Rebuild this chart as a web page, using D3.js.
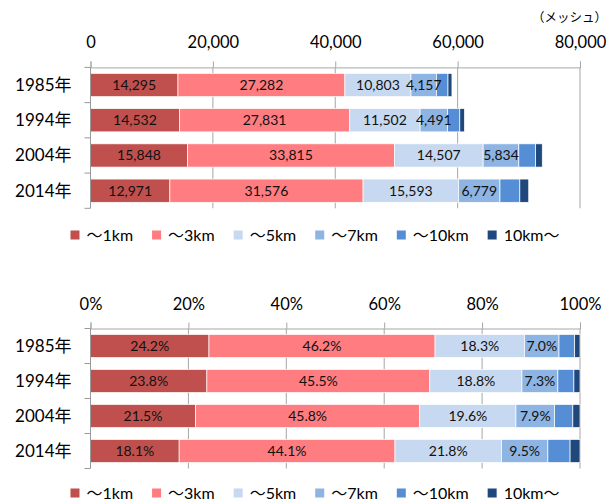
<!DOCTYPE html>
<html>
<head>
<meta charset="utf-8">
<script src="https://cdn.jsdelivr.net/npm/d3@7"></script>
<style>
  html, body { margin: 0; padding: 0; background: #fff; }
  svg { display: block; font-family: Lato, "Noto Sans CJK JP", sans-serif; }
</style>
</head>
<body>
<svg id="chart" width="615" height="502"></svg>
<script>
// ---- data ----
const categories = ["1985年", "1994年", "2004年", "2014年"];
const seriesNames = ["～1km", "～3km", "～5km", "～7km", "～10km", "10km～"];
const km1 = [14295, 14532, 15848, 12971];
const km3 = [27282, 27831, 33815, 31576];
const km5 = [10803, 11502, 14507, 15593];
const km7 = [4157, 4491, 5834, 6779];
const km10 = [1890, 2000, 2750, 3250];
const km10plus = [643, 760, 1080, 1450];
const countTicks = [0, 20000, 40000, 60000, 80000];
const pctTicks = [0, 0.2, 0.4, 0.6, 0.8, 1];
const unitLabel = "（メッシュ）";
const seriesColors = ["#C0504D", "#FF7C80", "#C6D9F1", "#8EB4E3", "#558ED5", "#1F497D"];
const labeledSeries = [true, true, true, true, false, false];

const seriesValues = [km1, km3, km5, km7, km10, km10plus];
const rows = categories.map((c, i) => {
  const r = { cat: c };
  seriesNames.forEach((s, j) => r[s] = seriesValues[j][i]);
  return r;
});

const svg = d3.select("#chart");
const gridColor = "#A6A6A6";

function drawChart(opts) {
  const { x, y, stacked, ticks, tickFmt, labelFmt } = opts;
  const g = svg.append("g");
  const [y0, y1] = y.range();

  // gridlines
  g.selectAll("line.grid").data(ticks.filter(t => t !== 0)).join("line")
    .attr("x1", d => x(d)).attr("x2", d => x(d))
    .attr("y1", y0).attr("y2", y1)
    .attr("stroke", gridColor).attr("stroke-width", 1);

  // top axis
  const ax = g.append("g").attr("transform", `translate(0,${y0})`)
    .call(d3.axisTop(x).tickValues(ticks).tickFormat(tickFmt).tickSize(6).tickPadding(13));
  ax.select(".domain").attr("stroke", gridColor);
  ax.selectAll(".tick line").attr("stroke", gridColor);
  ax.selectAll(".tick text").attr("font-size", 16.5).attr("fill", "#000")
    .attr("font-family", 'Lato, "Noto Sans CJK JP", sans-serif');

  // bars
  const layers = g.selectAll("g.layer").data(stacked).join("g")
    .attr("fill", (d, i) => seriesColors[i]);
  layers.selectAll("rect").data(d => d).join("rect")
    .attr("x", d => x(d[0]))
    .attr("width", d => x(d[1]) - x(d[0]))
    .attr("y", d => y(d.data.cat))
    .attr("height", y.bandwidth())
    .attr("stroke", "#fff").attr("stroke-width", 0.7);

  // labels
  stacked.forEach((layer, i) => {
    if (!labeledSeries[i]) return;
    g.append("g").selectAll("text").data(layer).join("text")
      .attr("x", d => (x(d[0]) + x(d[1])) / 2)
      .attr("y", d => y(d.data.cat) + y.bandwidth() / 2)
      .attr("dy", "0.35em")
      .attr("text-anchor", "middle")
      .attr("font-size", 14)
      .attr("fill", "#111")
      .text(d => labelFmt(d, i));
  });

  // left axis
  const xl = x.range()[0];
  g.append("line").attr("x1", xl).attr("x2", xl).attr("y1", y0).attr("y2", y1)
    .attr("stroke", "#999").attr("stroke-width", 1);
  const bounds = d3.range(categories.length + 1).map(k => y0 + k * y.step());
  g.selectAll("line.lt").data(bounds).join("line")
    .attr("x1", xl - 6).attr("x2", xl).attr("y1", d => d).attr("y2", d => d)
    .attr("stroke", "#999");
  g.selectAll("text.cat").data(categories).join("text")
    .attr("x", xl - 19)
    .attr("y", d => y(d) + y.bandwidth() / 2)
    .attr("dy", "0.35em")
    .attr("text-anchor", "end")
    .attr("font-size", 17)
    .attr("fill", "#000")
    .text(d => d);
}

function drawLegend(cy) {
  const g = svg.append("g");
  const items = g.selectAll("g").data(seriesNames).join("g");
  items.append("rect").attr("width", 9).attr("height", 9).attr("y", cy - 4.5)
    .attr("fill", (d, i) => seriesColors[i]);
  items.append("text").attr("x", 16).attr("y", cy).attr("dy", "0.35em")
    .attr("font-size", 16).attr("fill", "#000").text(d => d);
  const gap = 19;
  let cx = 0;
  const widths = [];
  items.each(function () {
    const w = 16 + this.querySelector("text").getComputedTextLength();
    widths.push(w);
  });
  const total = d3.sum(widths) + gap * (widths.length - 1);
  let start = 315 - total / 2;
  items.attr("transform", (d, i) => {
    const t = `translate(${start + cx},0)`;
    cx += widths[i] + gap;
    return t;
  });
}

// ---- top chart: counts ----
const xCount = d3.scaleLinear().domain([0, 80000]).range([90.5, 580]);
const yTop = d3.scaleBand().domain(categories).range([67.4, 208.3]).paddingInner(0.34).paddingOuter(0.17);
const stackCount = d3.stack().keys(seriesNames)(rows);
drawChart({
  x: xCount, y: yTop, stacked: stackCount, ticks: countTicks,
  tickFmt: d3.format(","),
  labelFmt: (d, i) => d3.format(",")(d.data[seriesNames[i]])
});
svg.append("text").attr("x", 607).attr("y", 22).attr("text-anchor", "end")
  .attr("font-size", 12.5).attr("fill", "#000").text(unitLabel);
drawLegend(235);

// ---- bottom chart: shares ----
const xPct = d3.scaleLinear().domain([0, 1]).range([90.5, 580]);
const yBot = d3.scaleBand().domain(categories).range([328.5, 468.5]).paddingInner(0.34).paddingOuter(0.17);
const stackPct = d3.stack().keys(seriesNames).offset(d3.stackOffsetExpand)(rows);
drawChart({
  x: xPct, y: yBot, stacked: stackPct, ticks: pctTicks,
  tickFmt: d3.format(".0%"),
  labelFmt: (d) => d3.format(".1%")(d[1] - d[0])
});
drawLegend(493);
</script>
</body>
</html>
